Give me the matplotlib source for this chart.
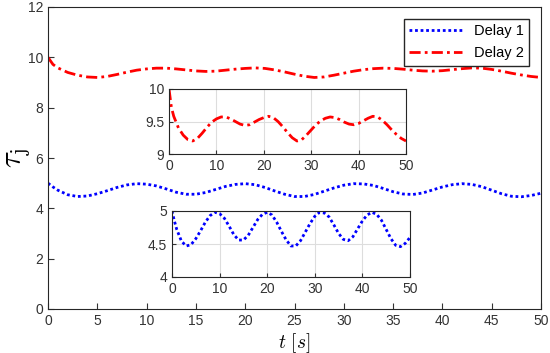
import matplotlib
matplotlib.use("Agg")
import matplotlib.pyplot as plt
from matplotlib.ticker import FormatStrFormatter

plt.rcParams['font.family'] = ['Liberation Sans', 'DejaVu Sans']
plt.rcParams['mathtext.fontset'] = 'cm'

# data
t = [0, 0.5, 1, 2, 3, 4, 5, 6, 7, 8, 9, 10, 11, 12, 13, 14, 15, 16, 17, 18, 19, 20,
     21, 22, 23, 24, 25, 26, 27, 28, 29, 30, 31, 32, 33, 34, 35, 36, 37, 38, 39, 40,
     41, 42, 43, 44, 45, 46, 47, 48, 49, 50]
delay1 = [5.00, 4.85, 4.72, 4.54, 4.47, 4.49, 4.58, 4.70, 4.83, 4.93, 4.98, 4.96,
          4.89, 4.77, 4.64, 4.56, 4.56, 4.63, 4.75, 4.87, 4.95, 4.98, 4.94, 4.83,
          4.69, 4.56, 4.47, 4.47, 4.55, 4.68, 4.81, 4.92, 4.98, 4.97, 4.91, 4.79,
          4.66, 4.57, 4.55, 4.61, 4.73, 4.85, 4.94, 4.98, 4.95, 4.86, 4.72, 4.58,
          4.48, 4.46, 4.51, 4.60]
delay2 = [10.00, 9.72, 9.58, 9.40, 9.29, 9.22, 9.20, 9.24, 9.32, 9.41, 9.49, 9.54,
          9.57, 9.57, 9.54, 9.50, 9.46, 9.44, 9.45, 9.49, 9.53, 9.56, 9.58, 9.56,
          9.50, 9.42, 9.33, 9.25, 9.20, 9.22, 9.29, 9.37, 9.45, 9.51, 9.55, 9.57,
          9.56, 9.53, 9.49, 9.46, 9.45, 9.47, 9.51, 9.55, 9.58, 9.57, 9.52, 9.45,
          9.37, 9.30, 9.24, 9.20]

xticks = [0, 5, 10, 15, 20, 25, 30, 35, 40, 45, 50]
yticks = [0, 2, 4, 6, 8, 10, 12]

fig = plt.figure(figsize=(5.5, 3.53), dpi=100)
ax = fig.add_axes([48/550, 1 - 309/353, 493/550, 302/353])

ax.plot(t, delay1, color="b", linestyle=(0, (1, 1)), linewidth=2, label="Delay 1")
ax.plot(t, delay2, color="r", linestyle=(0, (4, 1.5, 1, 1.5)), linewidth=2, label="Delay 2")
ax.set_xlim(0, 50)
ax.set_ylim(0, 12)
ax.set_xticks(xticks)
ax.set_yticks(yticks)
ax.tick_params(direction="in", labelsize=10, colors="#333333", length=4)
for s in ax.spines.values():
    s.set_color("#262626")
    s.set_linewidth(0.8)
ax.set_xlabel(r"$t\ [s]$", fontsize=14)
ax.xaxis.set_label_coords(0.5, -0.072)
ax.set_ylabel(r"$\tau_{\mathrm{j}}$", fontsize=22)
ax.yaxis.set_label_coords(-0.033, 0.5)
leg = ax.legend(loc="upper right", fontsize=10.5, fancybox=False, edgecolor="#262626",
                handlelength=3.6, borderaxespad=0.8, framealpha=1)
leg.get_frame().set_linewidth(1)

# insets
def inset(rect, y, ylim, yt, color, ls):
    a = fig.add_axes(rect)
    a.plot(t, y, color=color, linestyle=ls, linewidth=2)
    a.set_xlim(0, 50)
    a.set_ylim(*ylim)
    a.set_xticks([0, 10, 20, 30, 40, 50])
    a.set_yticks(yt)
    a.yaxis.set_major_formatter(FormatStrFormatter('%g'))
    a.grid(True, color="#dddddd", linewidth=0.8)
    a.tick_params(direction="in", labelsize=10, colors="#333333", length=3)
    for s in a.spines.values():
        s.set_color("#262626")
        s.set_linewidth(0.8)
    return a

inset([169/550, 1 - 154/353, 237/550, 65/353], delay2, (9, 10), [9, 9.5, 10],
      "r", (0, (4, 1.5, 1, 1.5)))
inset([172/550, 1 - 277/353, 238/550, 66/353], delay1, (4, 5), [4, 4.5, 5],
      "b", (0, (1, 1)))

plt.savefig("out.png", dpi=100)
